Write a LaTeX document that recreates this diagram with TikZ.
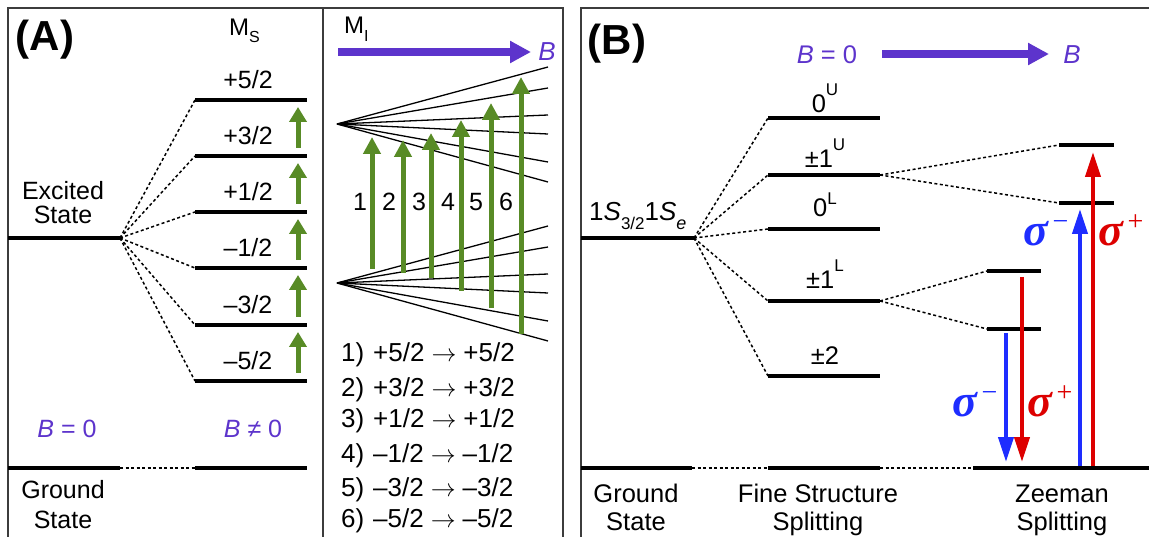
\documentclass[tikz,border=0pt]{standalone}
\usepackage{amsmath}
\usepackage{fontspec}
\setmainfont{Liberation Sans}
\newfontfamily\sigfont{Liberation Serif}
\usetikzlibrary{arrows.meta}
\definecolor{grn}{RGB}{88,139,38}
\definecolor{purp}{RGB}{93,52,204}
\definecolor{rd}{RGB}{221,0,0}
\definecolor{bl}{RGB}{30,45,255}
\definecolor{framec}{RGB}{60,60,60}
\newcommand{\myfs}[1]{\fontsize{#1}{#1}\selectfont}
\newcommand{\sgm}[1]{{\sigfont\bfseries\itshape σ}\hspace{4pt}\raisebox{15pt}{\sigfont\myfs{28}#1}}
\tikzset{
  lvl/.style={line width=4pt},
  dotl/.style={line width=1.5pt, dash pattern=on 3pt off 2.5pt},
  fan/.style={line width=1.3pt},
  garr/.style={grn, line width=5pt, -{Triangle[width=17pt,length=15pt]}},
  bigg/.style={grn, line width=5pt, -{Triangle[width=17pt,length=17pt]}},
  parr/.style={purp, line width=8pt, -{Triangle[width=21pt,length=21pt]}},
  rarr/.style={rd, line width=4pt, -{Triangle[width=15pt,length=25pt]}},
  barr/.style={bl, line width=4pt, -{Triangle[width=15pt,length=25pt]}},
  labA/.style={inner sep=0, anchor=base, font=\myfs{25}},
  labB/.style={inner sep=0, anchor=base, font=\myfs{25.5}},
  sig/.style={inner sep=0, anchor=base, font=\myfs{46}},
  panel/.style={framec, line width=1.2pt},
}
\begin{document}
\begin{tikzpicture}[x=1pt,y=-1pt]
\fill[white] (0,0) rectangle (1149,537);
\useasboundingbox (0,0) rectangle (1149,537);
% frames
\draw[panel] (8,545) -- (8,8) -- (563,8) -- (563,545);
\draw[panel] (323,8) -- (323,545);
\draw[panel] (581,545) -- (581,8) -- (1155,8);
% ---------------- Panel A ----------------
\node[inner sep=0, font=\myfs{42}\bfseries] (pA) at (45,40) {(A)};
\node[inner sep=0, anchor=base west, font=\myfs{24}] (ms) at (229,36) {M\raisebox{-7pt}{\myfs{16}S}};
\coordinate (exL) at (8,238);
\coordinate (exR) at (120,238);
\draw[lvl] (exL) -- (exR);
\node[labA] (ex1) at (63,200) {Excited};
\node[labA] (ex2) at (63,224) {State};
\foreach \n/\y/\t in {1/100/{+5/2},2/156/{+3/2},3/212/{+1/2},4/268/{–1/2},5/325/{–3/2},6/381/{–5/2}}{
  \coordinate (sL\n) at (195,\y);
  \coordinate (sR\n) at (307,\y);
  \draw[lvl] (sL\n) -- (sR\n);
  \node[labA] (sT\n) at (248,\y-11) {\t};
  \draw[dotl] (exR) -- (sL\n);
}
\foreach \u/\l in {100/156,156/212,212/268,268/325,325/381}{
  \draw[garr] (298,\l-8) -- (298,\u+7);
}
\coordinate (gA1) at (8,468);
\coordinate (gA2) at (120,468);
\coordinate (gA3) at (195,468);
\coordinate (gA4) at (307,468);
\draw[lvl] (gA1) -- (gA2);
\draw[lvl] (gA3) -- (gA4);
\draw[dotl] (gA2) -- (gA3);
\node[labA] (gs1) at (63,498) {Ground};
\node[labA] (gs2) at (63,528) {State};
\node[labA, text=purp] (b0A) at (67,437) {\textit{B} = 0};
\node[labA, text=purp] (bnA) at (253,437) {\textit{B} ≠ 0};
% M_I part
\node[inner sep=0, anchor=base west, font=\myfs{24}] (mi) at (344,34) {M\raisebox{-8pt}{\myfs{16}I}};
\coordinate (paS) at (338,52);
\coordinate (paE) at (531,52);
\draw[parr] (paS) -- (paE);
\node[inner sep=0, font=\myfs{26}\itshape, text=purp] (bA) at (547,52) {B};
\coordinate (fT) at (337,124);
\coordinate (fB) at (337,283);
\foreach \o [count=\i] in {-57,-36,-9,10,38,58}{
  \coordinate (fTe\i) at (548,124+\o);
  \coordinate (fBe\i) at (548,283+\o);
  \draw[fan] (fT) -- (fTe\i);
  \draw[fan] (fB) -- (fBe\i);
}
\foreach \x/\b/\t/\lx [count=\i] in {372/269/137/360,403/273/140/389,431/278/133/419,461/291/120/448,491/308/103/476,521/334/77/506}{
  \coordinate (ab\i) at (\x,\b);
  \coordinate (at\i) at (\x,\t);
  \draw[bigg] (ab\i) -- (at\i);
  \node[inner sep=0, font=\myfs{25}] (an\i) at (\lx,202) {\i};
}
\foreach \y/\a [count=\i] in {362/{+5/2},396/{+3/2},427/{+1/2},462/{–1/2},496/{–3/2},527/{–5/2}}{
  \node[inner sep=0, anchor=base west, font=\myfs{26}] (tr\i) at (341,\y)
    {\makebox[32pt][l]{\i)}\a\hspace{7pt}$\rightarrow$\hspace{7pt}\a};
}
% ---------------- Panel B ----------------
\node[inner sep=0, font=\myfs{42}\bfseries] (pB) at (617,44) {(B)};
\node[labB, text=purp] (b0B) at (827,64) {\textit{B} = 0};
\coordinate (pbS) at (882,54);
\coordinate (pbE) at (1049,54);
\draw[parr] (pbS) -- (pbE);
\node[inner sep=0, font=\myfs{26}\itshape, text=purp] (bB) at (1072,55) {B};
\coordinate (eBL) at (581,238);
\coordinate (eBR) at (694,238);
\draw[lvl] (eBL) -- (eBR);
\node[inner sep=0, anchor=base west, font=\myfs{26}] (sLab) at (589,221)
  {1\textit{S}\raisebox{-9pt}{\myfs{17}3/2}1\textit{S}\raisebox{-9pt}{\myfs{18}\textit{e}}};
\foreach \n/\y/\by/\t in {
  a/118/113/{0\raisebox{17pt}{\myfs{17}U}},
  b/175/168/{±1\raisebox{17pt}{\myfs{17}U}},
  c/229/217/{0\raisebox{12pt}{\myfs{17}L}},
  d/301/289/{±1\raisebox{17pt}{\myfs{17}L}},
  e/376/364/{±2}}{
  \coordinate (fL\n) at (768,\y);
  \coordinate (fR\n) at (880,\y);
  \draw[lvl] (fL\n) -- (fR\n);
  \node[labB] (fT\n) at (825,\by) {\t};
  \draw[dotl] (eBR) -- (fL\n);
}
% Zeeman levels
\coordinate (z1L) at (1059,145); \coordinate (z1R) at (1114,145);
\coordinate (z2L) at (1059,203); \coordinate (z2R) at (1114,203);
\coordinate (z3L) at (987,271);  \coordinate (z3R) at (1041,271);
\coordinate (z4L) at (987,329);  \coordinate (z4R) at (1041,329);
\foreach \i in {1,2,3,4}{\draw[lvl] (z\i L) -- (z\i R);}
\draw[dotl] (fRb) -- (z1L);
\draw[dotl] (fRb) -- (z2L);
\draw[dotl] (fRd) -- (z3L);
\draw[dotl] (fRd) -- (z4L);
% ground B
\coordinate (gB1) at (581,468);
\coordinate (gB2) at (692,468);
\coordinate (gB3) at (768,468);
\coordinate (gB4) at (880,468);
\coordinate (gB5) at (973,468);
\coordinate (gB6) at (1152,468);
\draw[lvl] (gB1) -- (gB2);
\draw[lvl] (gB3) -- (gB4);
\draw[lvl] (gB5) -- (gB6);
\draw[dotl] (gB2) -- (gB3);
\draw[dotl] (gB4) -- (gB5);
% transitions
\draw[barr] (1080,466) -- (1080,209);
\draw[rarr] (1093,466) -- (1093,152);
\draw[barr] (1006,333) -- (1006,462);
\draw[rarr] (1022,277) -- (1022,462);
\node[sig, text=bl] (sg1) at (1046,246) {\sgm{−}};
\node[sig, text=rd] (sg2) at (1121,246) {\sgm{+}};
\node[sig, text=bl] (sg3) at (975,416) {\sgm{−}};
\node[sig, text=rd] (sg4) at (1050,416) {\sgm{+}};
% bottom labels
\node[labB] (gB1t) at (636,502) {Ground};
\node[labB] (gB2t) at (636,530) {State};
\node[labB] (fs1) at (818,502) {Fine Structure};
\node[labB] (fs2) at (818,530) {Splitting};
\node[labB] (zs1) at (1062,502) {Zeeman};
\node[labB] (zs2) at (1062,530) {Splitting};
\end{tikzpicture}
\end{document}
